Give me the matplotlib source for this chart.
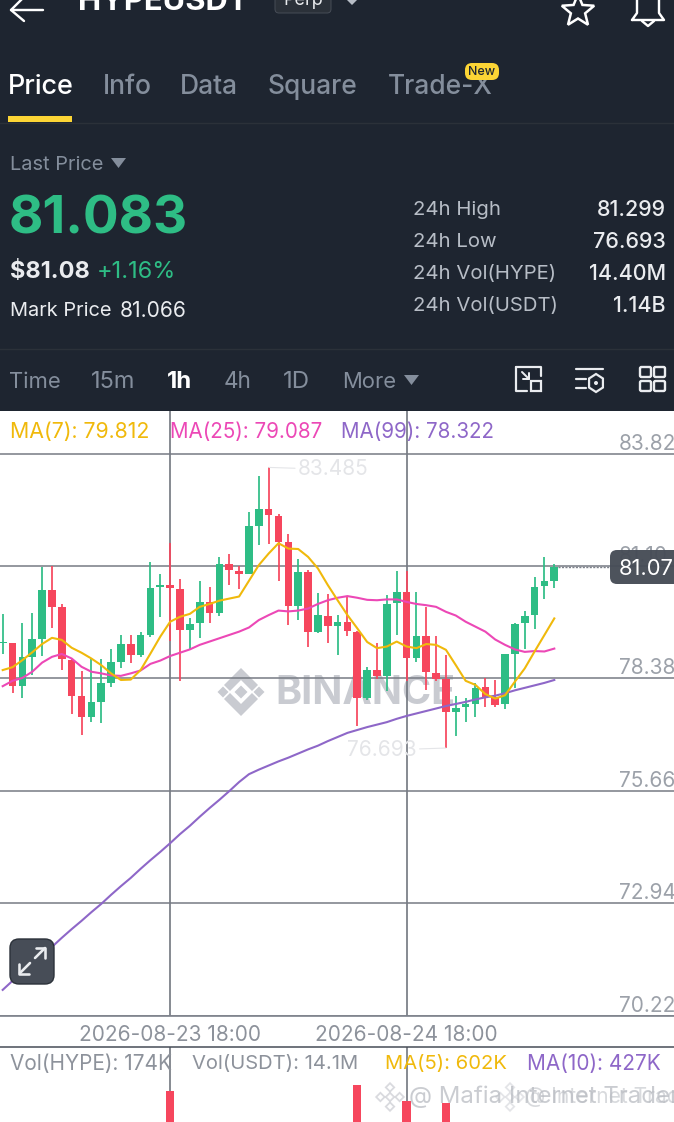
import matplotlib
matplotlib.use("Agg")
import matplotlib.pyplot as plt
from matplotlib.patches import FancyBboxPatch, Rectangle, Polygon, Circle
import numpy as np

plt.rcParams['font.family'] = ['Inter', 'DejaVu Sans']

# ---------- data ----------
opens = [79.23,79.23,78.20,78.90,79.34,80.51,80.11,78.82,77.95,77.44,77.81,78.27,78.78,79.22,78.95,79.44,80.59,80.65,80.55,79.56,
         79.72,80.22,79.95,81.14,80.97,80.90,82.07,82.49,82.32,81.68,80.14,80.95,79.49,79.90,79.65,79.74,79.51,77.91,78.57,78.44,
         80.20,80.48,78.87,79.41,78.52,78.36,77.57,77.68,77.77,78.16,77.93,77.76,78.98,79.71,79.92,80.61,80.74]
highs = [79.94,79.24,79.73,79.95,81.07,81.10,80.19,78.84,78.56,78.84,78.86,79.10,79.44,79.43,79.49,81.19,80.90,81.65,80.78,79.85,
         80.73,80.60,81.31,81.40,81.11,82.40,83.28,83.485,82.35,81.88,81.28,81.00,80.45,80.41,79.91,80.38,79.52,78.65,79.23,80.39,
         80.98,80.98,80.47,80.11,79.40,78.94,77.95,77.90,78.26,78.40,78.33,78.97,79.73,80.00,80.83,81.31,81.15]
lows = [78.98,78.03,77.90,78.46,78.92,79.60,78.57,77.52,77.02,77.33,77.29,78.16,78.63,78.76,78.89,79.39,79.86,79.28,78.31,79.10,
        79.35,79.71,79.90,80.64,80.54,80.90,81.60,81.63,80.73,79.66,79.79,79.15,79.48,79.23,78.94,79.40,77.23,77.85,78.37,78.08,
        79.44,78.31,78.77,78.10,78.32,76.693,76.98,77.32,77.45,77.68,77.69,77.63,78.14,79.10,79.58,80.31,80.57]
closes = [79.27,78.20,78.90,79.34,80.51,80.11,78.84,77.96,77.44,77.81,78.27,78.77,79.22,78.95,79.44,80.57,80.65,80.57,79.56,79.70,
          80.22,79.95,81.14,80.99,80.91,82.06,82.49,82.34,81.68,80.14,80.95,79.49,79.91,79.65,79.74,79.52,77.91,78.57,78.44,80.19,
          80.48,78.87,79.41,78.54,78.37,77.57,77.66,77.76,78.15,77.93,77.74,78.97,79.70,79.90,80.60,80.73,81.07]
ma7 = [78.58,78.65,78.82,79.01,79.21,79.36,79.31,79.12,79.00,78.86,78.70,78.50,78.34,78.35,78.58,78.98,79.39,79.75,79.87,79.94,
       80.11,80.18,80.26,80.31,80.36,80.74,81.12,81.40,81.65,81.52,81.51,81.32,81.04,80.64,80.27,79.91,79.59,79.26,79.11,79.15,
       79.27,79.15,79.11,79.21,79.19,79.07,78.70,78.32,78.22,78.00,77.89,77.97,78.30,78.62,79.03,79.43,79.83]
ma25 = [78.19,78.32,78.39,78.54,78.76,78.90,78.97,78.86,78.66,78.54,78.50,78.45,78.44,78.50,78.57,78.73,78.81,78.92,79.00,79.08,
        79.19,79.27,79.35,79.43,79.51,79.61,79.79,79.91,80.02,80.00,80.02,80.07,80.18,80.27,80.33,80.37,80.33,80.28,80.27,80.29,
        80.29,80.23,80.18,80.15,80.11,79.99,79.90,79.75,79.63,79.51,79.32,79.19,79.08,79.02,79.04,79.03,79.10]
ma99 = [70.84,71.06,71.25,71.47,71.68,71.88,72.10,72.31,72.51,72.72,72.92,73.14,73.35,73.55,73.77,73.98,74.18,74.39,74.61,74.81,
        75.03,75.24,75.44,75.65,75.87,76.06,76.17,76.27,76.37,76.46,76.56,76.66,76.75,76.86,76.96,77.06,77.13,77.20,77.26,77.32,
        77.40,77.47,77.53,77.59,77.65,77.71,77.76,77.81,77.87,77.92,77.96,78.02,78.09,78.15,78.21,78.27,78.34]
y_ticks = [83.82, 81.10, 78.38, 75.66, 72.94, 70.22]
y_tick_labels = ["83.82", "81.10", "78.38", "75.66", "72.94", "70.22"]
time_idx = [17, 41]
time_labels = ["2026-08-23 18:00", "2026-08-24 18:00"]
vol_idx = [17, 36, 41, 45]
vol_vals = [1.93, 2.11, 1.63, 1.57]  # millions
last_price = 81.07

W, H = 674, 1122
BG = '#1E2530'
GREEN = '#2EBD85'
RED = '#F6465D'
GRAY = '#848E9C'
YEL = '#F0B90B'
PINK = '#EC48B6'
PUR = '#8E67C8'

fig = plt.figure(figsize=(W/100, H/100), dpi=100, facecolor=BG)

def px_axes(top, bottom, z):
    a = fig.add_axes([0, 1-bottom/H, 1, (bottom-top)/H], zorder=z)
    a.patch.set_alpha(0)
    return a

# ---------- background UI layer ----------
ui = fig.add_axes([0, 0, 1, 1], zorder=1)
ui.set_xlim(0, W); ui.set_ylim(H, 0); ui.axis('off')
ui.add_patch(Rectangle((0, 411), W, H-411, fc='white', ec='none'))

def T(x, y, s, px, color, ha='left', weight='normal', va='center', a=None, **kw):
    dy = 2 if va == 'center' else 0
    return (a or ui).text(x, y+dy, s, fontsize=px*0.72, color=color, ha=ha, va=va, fontweight=weight, **kw)

def L(xs, ys, c='white', w=2.4, a=None):
    (a or ui).plot(xs, ys, color=c, lw=w*0.72, solid_capstyle='round', solid_joinstyle='round')

def logo(a, x0, y0, hs, col, alpha=1.0):
    for dx, dy in [(-1.6, 0), (1.6, 0), (0, -1.6), (0, 1.6), (0, 0)]:
        xc, yc = x0+dx*hs, y0+dy*hs
        a.add_patch(Polygon([(xc-hs*.7, yc), (xc, yc-hs*.7), (xc+hs*.7, yc), (xc, yc+hs*.7)],
                            fc='none', ec=col, lw=1.3, alpha=alpha))

# header
L([11, 43], [10, 10]); L([24, 11, 24], [-3, 10, 21])
T(78, 10, "HYPEUSDT", 31, 'white', weight='bold', va='baseline', clip_on=True)
ui.add_patch(FancyBboxPatch((275, -12), 56, 25, boxstyle='round,pad=0,rounding_size=4', fc='#2B3139', ec='#474D57', lw=0.7))
T(303, -2, "Perp", 18, '#EAECEF', ha='center', clip_on=True)
ui.add_patch(Polygon([(347, 0), (357, 0), (352, 5)], fc='#B7BDC6', ec='none'))
ang = np.deg2rad(np.arange(-90, 271, 36))
r = np.where(np.arange(len(ang)) % 2 == 0, 17, 7.5)
ui.add_patch(Polygon(np.c_[578+r*np.cos(ang), 11+r*np.sin(ang)], fc='none', ec='white', lw=1.8))
L([632, 637, 637, 659, 659, 664, 632], [20, 13, -5, -5, 13, 20, 20])
L([642, 648, 654], [21, 26, 21])

# tabs
T(8, 85, "Price", 27, 'white', weight='medium')
for x, s in zip([103, 180, 268, 388], ["Info", "Data", "Square", "Trade-X"]):
    T(x, 85, s, 26.4, GRAY, weight='medium')
ui.add_patch(FancyBboxPatch((465, 63), 34, 17, boxstyle='round,pad=0,rounding_size=7', fc='#FCD535', ec='none', zorder=3))
T(482, 69.5, "New", 12.5, BG, ha='center', weight='medium', zorder=4)
ui.add_patch(Rectangle((8, 116), 64, 6, fc='#FCD535', ec='none'))
ui.plot([0, W], [122.5, 122.5], color='#2B3139', lw=1)

# price block
T(10, 163, "Last Price", 20, GRAY)
ui.add_patch(Polygon([(111, 158), (126, 158), (118.5, 168)], fc=GRAY, ec='none'))
T(9, 218, "81.083", 53, GREEN, weight='bold')
T(10, 270, "$81.08", 23.5, '#EAECEF', weight='bold')
T(97, 270, "+1.16%", 23.5, GREEN)
T(10, 309, "Mark Price", 20, '#EAECEF')
T(120, 309, "81.066", 21, '#EAECEF')
for y, k, v in zip([208, 240, 272, 304],
                   ["24h High", "24h Low", "24h Vol(HYPE)", "24h Vol(USDT)"],
                   ["81.299", "76.693", "14.40M", "1.14B"]):
    T(413, y, k, 20.3, '#B7BDC6')
    T(666, y, v, 21.5, '#EAECEF', ha='right', weight='medium')
ui.plot([0, W], [348.5, 348.5], color='#2B3139', lw=1)

# toolbar
for x, s, c, wt, sz in [(9, "Time", GRAY, 'normal', 22), (91, "15m", GRAY, 'normal', 23.5), (167, "1h", 'white', 'bold', 24),
                        (224, "4h", GRAY, 'normal', 22.5), (283, "1D", GRAY, 'normal', 24), (342, "More", GRAY, 'normal', 22)]:
    T(x, 380, s, sz, c, weight=wt)
ui.add_patch(Polygon([(404, 375), (419, 375), (411.5, 385)], fc=GRAY, ec='none'))
L([516, 541, 541], [367, 367, 376], '#EAECEF', 2.2)
L([516, 516, 527], [367, 391, 391], '#EAECEF', 2.2)
L([522, 529], [372, 379], '#EAECEF', 2); L([529, 529, 523], [373, 379, 379], '#EAECEF', 2)
ui.add_patch(Rectangle((531, 381), 10, 10, fc=BG, ec='#EAECEF', lw=1.6))
L([576, 603], [369, 369], '#EAECEF', 2.2)
L([576, 586], [379, 379], '#EAECEF', 2.2); L([576, 586], [388, 388], '#EAECEF', 2.2)
th = np.deg2rad(np.arange(-90, 271, 60))
ui.add_patch(Polygon(np.c_[596+8*np.cos(th), 383+9*np.sin(th)], fc='none', ec='#EAECEF', lw=1.6))
ui.add_patch(Circle((596, 383), 2, fc='#EAECEF', ec='none'))
for x in (640, 654):
    for y in (367, 381):
        ui.add_patch(FancyBboxPatch((x, y), 11, 10, boxstyle='round,pad=0,rounding_size=1.5', fc='none', ec='#EAECEF', lw=1.7))

# watermark (below the candles)
wm = '#C9CBD1'
cx, cy = 241, 692
ui.add_patch(Polygon([(cx, cy-24), (cx+17, cy-7), (cx+11, cy-1), (cx, cy-12), (cx-11, cy-1), (cx-17, cy-7)], fc=wm, ec='none'))
ui.add_patch(Polygon([(cx, cy+24), (cx+17, cy+7), (cx+11, cy+1), (cx, cy+12), (cx-11, cy+1), (cx-17, cy+7)], fc=wm, ec='none'))
for dx, hs in [(-18, 5.5), (0, 6.5), (18, 5.5)]:
    ui.add_patch(Polygon([(cx+dx-hs, cy), (cx+dx, cy-hs), (cx+dx+hs, cy), (cx+dx, cy+hs)], fc=wm, ec='none'))
T(275, 691, "BINANCE", 39.5, wm, weight='bold')

# ---------- price chart ----------
xlim = (-2.7/9.85, (W-2.7)/9.85)
ax = px_axes(411, 1015.5, 2)
ax.set_xlim(*xlim); ax.set_ylim(70.22, 84.85)
for s in ax.spines.values():
    s.set_visible(False)
ax.spines['bottom'].set_visible(True)
ax.spines['bottom'].set_color('#7D828B')
ax.spines['bottom'].set_linewidth(1.2)

ax.yaxis.tick_right()
ax.set_yticks(y_ticks, y_tick_labels)
ax.tick_params(axis='y', length=0, pad=-39.6, labelsize=15, labelcolor='#9CA1A9')
for lab in ax.get_yticklabels():
    lab.set_va('bottom')
ax.set_xticks(time_idx, time_labels)
ax.tick_params(axis='x', length=0, pad=7, labelsize=15, labelcolor='#8D929B')
ax.set_axisbelow(True)
ax.grid(axis='y', color='#767B84', lw=1.1)
ax.grid(axis='x', color='#666B74', lw=1.1)

idx = np.arange(len(opens))
o, h, l, c = map(np.array, (opens, highs, lows, closes))
cols = [GREEN if cc >= oo else RED for oo, cc in zip(o, c)]
ax.vlines(idx, l, h, colors=cols, lw=1.25, zorder=3)
ax.bar(idx, np.maximum(np.abs(c-o), 0.04), bottom=np.minimum(o, c), width=0.78, color=cols, zorder=3)
ax.plot(idx, ma99, color=PUR, lw=1.5, zorder=4)
ax.plot(idx, ma25, color=PINK, lw=1.5, zorder=4)
ax.plot(idx, ma7, color=YEL, lw=1.5, zorder=4)

ext = '#E4E5E8'
ax.annotate("83.485", xy=(27, 83.485), xytext=(21, -1.5), textcoords='offset points', color=ext, fontsize=15,
            va='center', arrowprops=dict(arrowstyle='-', color=ext, lw=0.8, shrinkA=0, shrinkB=0))
ax.annotate("76.693", xy=(45, 76.693), xytext=(-21, -1.5), textcoords='offset points', color=ext, fontsize=15,
            va='center', ha='right', arrowprops=dict(arrowstyle='-', color=ext, lw=0.8, shrinkA=0, shrinkB=0))
ax.plot([56.4, 61.6], [last_price, last_price], color='#7D828B', lw=1, ls=(0, (1.5, 1)), zorder=2)

# ---------- volume ----------
av = px_axes(1047, H, 2)
av.set_xlim(*xlim); av.set_ylim(1.0, 3.25)
for s in av.spines.values():
    s.set_visible(False)
av.spines['top'].set_visible(True)
av.spines['top'].set_color('#474D57')
av.spines['top'].set_linewidth(1.1)
av.set_yticks([])
av.set_xticks(time_idx, ["", ""])
av.tick_params(axis='x', length=0)
av.set_axisbelow(True)
av.grid(axis='x', color='#666B74', lw=1.1)
av.bar(vol_idx, vol_vals, width=0.85, color=RED, zorder=3)

# ---------- overlay ----------
top = fig.add_axes([0, 0, 1, 1], zorder=3)
top.set_xlim(0, W); top.set_ylim(H, 0); top.axis('off'); top.patch.set_alpha(0)
T(10, 430, "MA(7): 79.812", 21.3, YEL, a=top)
T(170, 430, "MA(25): 79.087", 20.6, PINK, a=top)
T(341, 430, "MA(99): 78.322", 20.6, PUR, a=top)
T(10, 1062, "Vol(HYPE): 174K", 20.8, '#8D929B', a=top)
T(192, 1062, "Vol(USDT): 14.1M", 20.2, '#8D929B', a=top)
T(385, 1062, "MA(5): 602K", 20.2, YEL, a=top)
T(527, 1062, "MA(10): 427K", 20.8, PUR, a=top)

top.add_patch(FancyBboxPatch((610, 550), 80, 34, boxstyle='round,pad=0,rounding_size=7', fc='#474D57', ec='none', alpha=0.97))
T(619, 567, "81.07", 22, 'white', a=top)

top.add_patch(FancyBboxPatch((10, 939), 44, 45, boxstyle='round,pad=0,rounding_size=9', fc='#474D57', ec='#2B3139', lw=1))
L([20, 30], [973, 963], '#EAECEF', 2.6, top); L([35, 45], [958, 948], '#EAECEF', 2.6, top)
L([19, 19, 29], [964, 974, 974], '#EAECEF', 2.6, top); L([36, 45, 45], [948, 948, 958], '#EAECEF', 2.6, top)

# bottom social watermark
wmc = '#B9BCC2'
T(409, 1095, "@ Mafia Internet Trader", 24, wmc, a=top, alpha=0.75)
T(525, 1095, "@ Internet Trader", 21, wmc, a=top, alpha=0.55)
logo(top, 390, 1097, 6, '#C9CBD1', 0.7)
logo(top, 510, 1097, 6, '#C9CBD1', 0.5)

fig.savefig('out.png', dpi=100, facecolor=BG)
